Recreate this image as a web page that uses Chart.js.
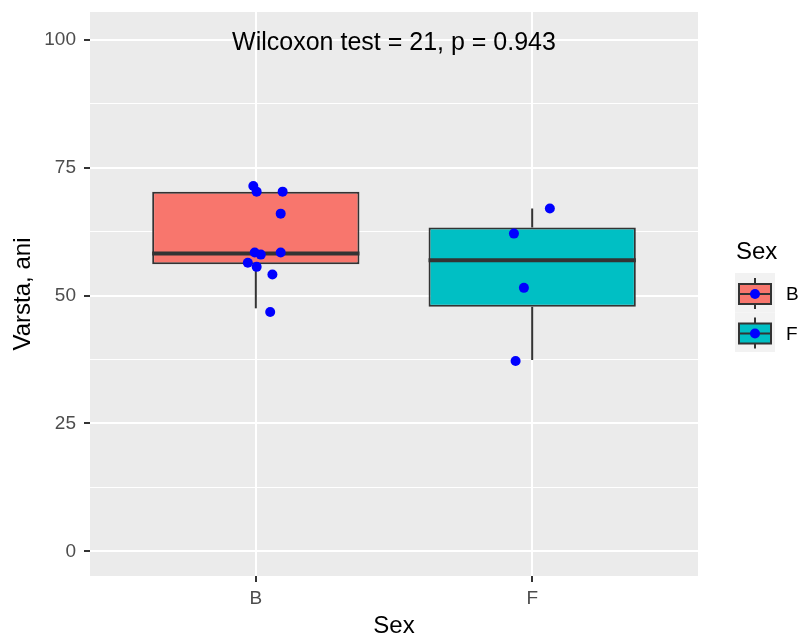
<!DOCTYPE html>
<html>
<head>
<meta charset="utf-8">
<script src="https://cdn.jsdelivr.net/npm/chart.js@4.4.1/dist/chart.umd.min.js"></script>
<style>
  html, body { margin: 0; padding: 0; background: #fff; }
  canvas { display: block; }
</style>
</head>
<body>
<canvas id="boxChart" width="800" height="637"></canvas>
<script>
// categorii si statistici pentru box-uri
const categories = ['B', 'F'];
const boxFill = ['#F8766D', '#00BFC4'];
const whiskerLow = [47.5, 37.4];
const q1 = [56.1, 47.8];
const medians = [58.2, 56.9];
const q3 = [70.3, 63.3];
const whiskerHigh = [70.3, 67.0];

// punctele cu jitter (x = pozitia categoriei + jitter)
const pointX = [0.991, 1.003, 1.097, 1.090, 0.996, 1.018, 1.090, 0.971, 1.003, 1.060, 1.052,
                2.064, 1.934, 1.970, 1.940];
const pointY = [71.4, 70.3, 70.3, 66.0, 58.4, 58.0, 58.4, 56.4, 55.6, 54.1, 46.8,
                67.0, 62.1, 51.5, 37.2];

const yTicks = [0, 25, 50, 75, 100];
const yMinor = [12.5, 37.5, 62.5, 87.5];
const statLabel = 'Wilcoxon test = 21, p = 0.943';
const statLabelX = 1.5;
const statLabelY = 98;

const FONT = "'Liberation Sans', Arial, sans-serif";
const DARK = '#333333';

const boxPlugin = {
    id: 'boxExtras',
    beforeDraw(chart) {
        const { ctx, chartArea: a } = chart;
        ctx.save();
        ctx.fillStyle = '#ffffff';
        ctx.fillRect(0, 0, chart.width, chart.height);
        ctx.fillStyle = '#EBEBEB';
        ctx.fillRect(a.left, a.top, a.right - a.left, a.bottom - a.top);
        ctx.restore();
    },
    beforeDatasetsDraw(chart) {
        // mustatile box-urilor
        const { ctx, scales: { x, y } } = chart;
        ctx.save();
        ctx.strokeStyle = DARK;
        ctx.lineWidth = 2;
        categories.forEach((c, i) => {
            const px = x.getPixelForValue(i + 1);
            ctx.beginPath();
            ctx.moveTo(px, y.getPixelForValue(whiskerLow[i]));
            ctx.lineTo(px, y.getPixelForValue(q1[i]));
            ctx.moveTo(px, y.getPixelForValue(q3[i]));
            ctx.lineTo(px, y.getPixelForValue(whiskerHigh[i]));
            ctx.stroke();
        });
        ctx.restore();
    },
    afterDatasetDraw(chart, args) {
        if (args.meta.type !== 'bar') return;
        // linia medianei
        const { ctx, scales: { y } } = chart;
        ctx.save();
        ctx.strokeStyle = DARK;
        ctx.lineWidth = 4;
        args.meta.data.forEach((bar, i) => {
            const py = y.getPixelForValue(medians[i]);
            ctx.beginPath();
            ctx.moveTo(bar.x - bar.width / 2, py);
            ctx.lineTo(bar.x + bar.width / 2, py);
            ctx.stroke();
        });
        ctx.restore();
    },
    afterDraw(chart) {
        const { ctx, chartArea: a, scales: { x, y } } = chart;
        ctx.save();
        // textul testului Wilcoxon
        ctx.fillStyle = '#000';
        ctx.font = '25px ' + FONT;
        ctx.textAlign = 'center';
        ctx.textBaseline = 'alphabetic';
        ctx.fillText(statLabel, x.getPixelForValue(statLabelX), y.getPixelForValue(statLabelY));

        // legenda
        const lx = a.right + 37;
        ctx.textAlign = 'left';
        ctx.textBaseline = 'middle';
        ctx.font = '24px ' + FONT;
        ctx.fillText('Sex', lx + 1, 252);
        categories.forEach((c, i) => {
            const top = 273 + i * 39.5;
            ctx.fillStyle = '#F2F2F2';
            ctx.fillRect(lx, top, 40, 39.5);
            const cx = lx + 20;
            ctx.strokeStyle = DARK;
            ctx.lineWidth = 2;
            ctx.beginPath();
            ctx.moveTo(cx, top + 5); ctx.lineTo(cx, top + 36);
            ctx.stroke();
            ctx.fillStyle = boxFill[i];
            ctx.fillRect(lx + 4, top + 11, 32, 20);
            ctx.strokeRect(lx + 4, top + 11, 32, 20);
            ctx.beginPath();
            ctx.moveTo(lx + 4, top + 21); ctx.lineTo(lx + 36, top + 21);
            ctx.stroke();
            ctx.fillStyle = '#0000FF';
            ctx.beginPath();
            ctx.arc(cx, top + 21, 5, 0, Math.PI * 2);
            ctx.fill();
            ctx.fillStyle = '#000';
            ctx.font = '19px ' + FONT;
            ctx.fillText(c, lx + 51, top + 22);
        });
        ctx.restore();
    }
};

const ctx = document.getElementById('boxChart').getContext('2d');
const boxChart = new Chart(ctx, {
    type: 'bar',
    data: {
        datasets: [{
            type: 'scatter',
            data: pointX.map((v, i) => ({ x: v, y: pointY[i] })),
            backgroundColor: '#0000FF',
            borderWidth: 0,
            pointRadius: 5,
            pointHoverRadius: 5
        }, {
            type: 'bar',
            data: categories.map((c, i) => ({ x: i + 1, y: [q1[i], q3[i]] })),
            backgroundColor: boxFill,
            borderColor: DARK,
            borderWidth: 2,
            borderSkipped: false,
            barPercentage: 0.75,
            categoryPercentage: 1,
            grouped: false
        }]
    },
    options: {
        responsive: false,
        animation: false,
        layout: { padding: { top: 12, right: 102, left: 0, bottom: 0 } },
        plugins: { legend: { display: false }, tooltip: { enabled: false } },
        scales: {
            x: {
                type: 'linear',
                min: 0.4,
                max: 2.6,
                offset: false,
                afterBuildTicks: axis => { axis.ticks = categories.map((c, i) => ({ value: i + 1 })); },
                afterFit: axis => {
                    axis.height = 61;
                    axis.paddingLeft = 0;
                    axis.paddingRight = 0;
                },
                ticks: {
                    callback: v => categories[Math.round(v) - 1],
                    color: '#4D4D4D',
                    font: { family: FONT, size: 19 },
                    padding: 5,
                    autoSkip: false,
                    maxRotation: 0
                },
                grid: { offset: false, color: '#ffffff', lineWidth: 2, tickLength: 6, tickWidth: 2, tickColor: DARK },
                border: { display: false },
                title: {
                    display: true,
                    text: 'Sex',
                    color: '#000',
                    font: { family: FONT, size: 24, lineHeight: 0.8 },
                    padding: { top: 0, bottom: 1 }
                }
            },
            y: {
                min: -4.8,
                max: 105.4,
                afterBuildTicks: axis => {
                    axis.ticks = yTicks.concat(yMinor).sort((a, b) => a - b).map(v => ({ value: v }));
                },
                afterFit: axis => {
                    axis.width = 90;
                    axis.paddingTop = 0;
                    axis.paddingBottom = 0;
                },
                ticks: {
                    callback: v => (yTicks.includes(v) ? String(v) : ''),
                    color: '#4D4D4D',
                    font: { family: FONT, size: 19 },
                    padding: 8,
                    autoSkip: false
                },
                grid: {
                    color: '#ffffff',
                    lineWidth: c => (yTicks.includes(c.tick.value) ? 2 : 1),
                    tickLength: 6,
                    tickWidth: 2,
                    tickColor: c => (yTicks.includes(c.tick.value) ? DARK : 'rgba(0,0,0,0)')
                },
                border: { display: false },
                title: {
                    display: true,
                    text: 'Varsta, ani',
                    color: '#000',
                    font: { family: FONT, size: 24, lineHeight: 0.8 },
                    padding: { top: 14, bottom: 0 }
                }
            }
        }
    },
    plugins: [boxPlugin]
});
</script>
</body>
</html>
